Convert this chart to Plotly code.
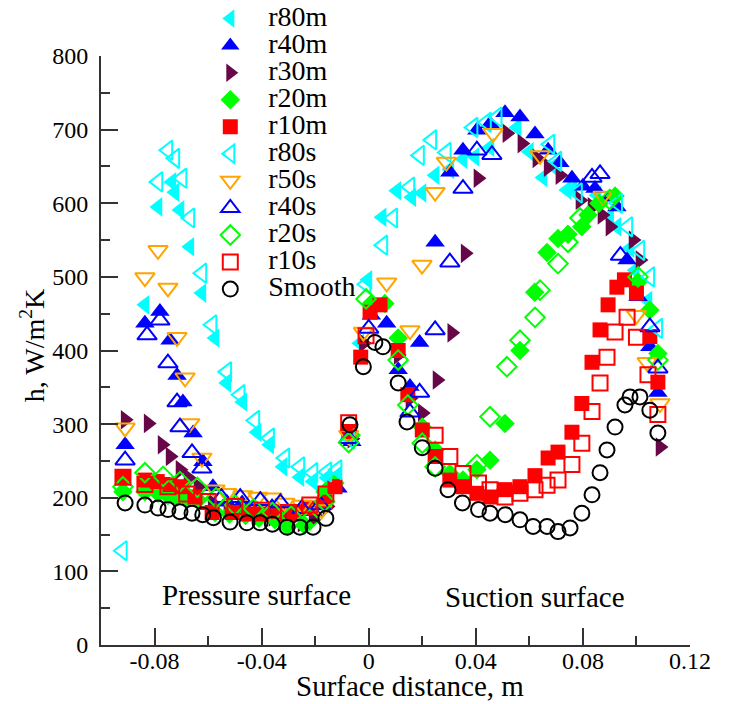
import plotly.graph_objects as go

# ---------------- data ----------------
smooth_x = [-0.091, -0.0836, -0.0787, -0.075, -0.0705, -0.066, -0.062, -0.058, -0.0518, -0.0455, -0.0406, -0.036, -0.0305, -0.0257, -0.0208, -0.016, -0.007,
            -0.002, 0.0023, 0.0053, 0.011, 0.0143, 0.02, 0.0248, 0.0296, 0.035, 0.041, 0.0453, 0.051, 0.0565, 0.0614, 0.0666, 0.0707, 0.0752, 0.0796, 0.0834, 0.0864, 0.089, 0.092, 0.0957, 0.0976, 0.1013, 0.105, 0.108]
smooth_y = [193, 190, 186, 184, 181, 179, 177, 173, 167, 166, 166, 164, 160, 160, 160, 172, 299,
            378, 411, 405, 356, 303, 268, 240, 211, 193, 184, 179, 177, 170, 161, 161, 154, 159, 179, 204, 234, 265, 296, 326, 337, 337, 319, 288]

r80m_x = [-0.0836, -0.0787, -0.0735, -0.0724, -0.0705, -0.0668, -0.0623, -0.0574, -0.053, -0.047, -0.0417, -0.037, -0.032, -0.0257, -0.0208, -0.0156, -0.0118, -0.0063,
          -0.0033, -0.0003, 0.005, 0.0105, 0.0161, 0.0199, 0.0248, 0.0303, 0.0352, 0.0397, 0.0453, 0.0554, 0.06, 0.0651, 0.069, 0.074, 0.0763, 0.0853, 0.09, 0.0927, 0.0976, 0.0995, 0.1043]
r80m_y = [462, 595, 629, 615, 591, 541, 478, 417, 356, 330, 289, 272, 242, 228, 222, 227, 230, 283,
          410, 496, 581, 617, 608, 614, 638, 646, 660, 663, 676, 703, 670, 635, 650, 618, 620, 611, 581, 568, 539, 509, 468]

r40m_x = [-0.091, -0.0836, -0.078, -0.0742, -0.0716, -0.0694, -0.0656, -0.0619, -0.0582, -0.053, -0.0473, -0.0414, -0.0361, -0.0302, -0.0249, -0.0208, -0.0163, -0.0115, -0.0063,
          0.001, 0.0067, 0.011, 0.0154, 0.019, 0.0248, 0.0303, 0.0352, 0.0404, 0.0453, 0.0509, 0.0565, 0.0621, 0.067, 0.0714, 0.0759, 0.08, 0.0845, 0.0901, 0.0927, 0.0965, 0.1006, 0.105, 0.108]
r40m_y = [272, 437, 453, 414, 366, 330, 288, 249, 215, 194, 193, 184, 188, 174, 181, 181, 194, 213, 276,
          448, 437, 374, 351, 411, 547, 642, 672, 699, 708, 723, 717, 694, 672, 655, 634, 623, 620, 608, 595, 523, 473, 405, 343]

r30m_x = [-0.091, -0.0824, -0.0772, -0.0742, -0.0705, -0.0675, -0.0638, -0.0585, -0.0526, -0.047, -0.0417, -0.0358, -0.0302, -0.0249, -0.0208, -0.0156, -0.0063,
          -0.002, 0.011, 0.0154, 0.02, 0.0255, 0.031, 0.036, 0.0408, 0.0516, 0.0572, 0.0628, 0.067, 0.0714, 0.0789, 0.0834, 0.0871, 0.0901, 0.0987, 0.1013, 0.1088]
r30m_y = [306, 301, 272, 256, 238, 227, 215, 193, 188, 186, 174, 174, 170, 166, 170, 188, 280,
          410, 394, 335, 315, 360, 424, 532, 634, 695, 681, 661, 649, 638, 604, 595, 584, 568, 550, 523, 269]

r20m_x = [-0.0918, -0.0836, -0.0787, -0.075, -0.0716, -0.0679, -0.0638, -0.0574, -0.052, -0.046, -0.041, -0.035, -0.0302, -0.024, -0.0163, -0.0126, -0.0065,
          0.001, 0.006, 0.011, 0.02, 0.0248, 0.0303, 0.0352, 0.0404, 0.0453, 0.0509, 0.0565, 0.062, 0.0666, 0.0707, 0.0744, 0.0796, 0.0819, 0.086, 0.092, 0.1006, 0.105, 0.108]
r20m_y = [208, 208, 206, 203, 201, 199, 197, 180, 178, 176, 172, 170, 161, 163, 208, 220, 285,
          464, 464, 417, 296, 265, 233, 224, 238, 251, 301, 400, 479, 533, 552, 558, 568, 584, 600, 610, 493, 455, 396]

r10m_x = [-0.0918, -0.0836, -0.079, -0.0742, -0.0697, -0.0649, -0.0585, -0.051, -0.045, -0.04, -0.0339, -0.028, -0.022, -0.0163, -0.0126, -0.0075,
          -0.003, 0.0005, 0.0042, 0.011, 0.0146, 0.02, 0.0248, 0.0303, 0.0352, 0.0404, 0.0453, 0.0509, 0.0565, 0.0621, 0.067, 0.0707, 0.0759, 0.0796, 0.0834, 0.0864, 0.0894, 0.0927, 0.0955, 0.1, 0.105, 0.108]
r10m_y = [228, 224, 222, 218, 215, 201, 180, 180, 178, 178, 181, 181, 186, 194, 215, 290,
          391, 452, 462, 400, 340, 292, 256, 224, 215, 206, 201, 211, 215, 230, 254, 262, 289, 328, 384, 428, 462, 486, 496, 478, 419, 357]

r80s_x = [-0.092, -0.0787, -0.075, -0.0724, -0.0697, -0.0668, -0.0623, -0.0585, -0.053, -0.048, -0.0425, -0.037, -0.0313, -0.0257, -0.0208, -0.0156, -0.0118, -0.007,
          -0.001, 0.0053, 0.009, 0.0154, 0.019, 0.0236, 0.029, 0.039, 0.044, 0.048, 0.0677, 0.0703, 0.078, 0.093, 0.0968, 0.1013, 0.105, 0.108]
r80s_y = [128, 629, 672, 661, 634, 580, 505, 435, 371, 340, 305, 281, 254, 242, 234, 235, 238, 280,
          490, 543, 580, 622, 665, 686, 669, 703, 710, 717, 680, 657, 614, 600, 568, 536, 500, 430]

r50s_x = [-0.091, -0.0836, -0.0787, -0.075, -0.0716, -0.0686, -0.0668, -0.0623, -0.0574, -0.053, -0.047, -0.0414, -0.0361, -0.0313, -0.025, -0.0175, -0.0075,
          -0.002, 0.0067, 0.0154, 0.0199, 0.0248, 0.029, 0.0464, 0.064, 0.0875, 0.1, 0.104, 0.1088]
r50s_y = [295, 499, 536, 485, 418, 363, 301, 254, 211, 206, 203, 201, 200, 193, 190, 184, 285,
          425, 492, 427, 516, 615, 656, 695, 665, 610, 448, 384, 328]

r40s_x = [-0.091, -0.0828, -0.078, -0.075, -0.0716, -0.0705, -0.066, -0.0623, -0.055, -0.048, -0.0405, -0.033, -0.025, -0.018, -0.0075,
          0.0, 0.0154, 0.019, 0.0248, 0.0303, 0.0352, 0.0404, 0.046, 0.0834, 0.0864, 0.094, 0.105, 0.108]
r40s_y = [251, 421, 441, 383, 330, 296, 261, 240, 200, 200, 196, 193, 185, 190, 280,
          430, 316, 343, 428, 520, 620, 672, 666, 635, 640, 529, 432, 376]

r20s_x = [-0.0918, -0.0836, -0.0768, -0.0705, -0.064, -0.057, -0.05, -0.043, -0.036, -0.029, -0.022, -0.0165, -0.0075,
          -0.001, 0.011, 0.0146, 0.02, 0.0248, 0.0404, 0.0453, 0.0516, 0.0565, 0.0621, 0.064, 0.0707, 0.0744, 0.0789, 0.09, 0.1006, 0.108]
r20s_y = [215, 234, 229, 222, 214, 200, 190, 185, 180, 175, 170, 195, 275,
          470, 387, 326, 274, 242, 245, 310, 378, 414, 445, 482, 518, 547, 580, 605, 500, 387]

r10s_x = [-0.0918, -0.0836, -0.075, -0.068, -0.06, -0.05, -0.04, -0.03, -0.022, -0.016, -0.0075,
          -0.001, 0.0248, 0.0303, 0.0352, 0.041, 0.0453, 0.0509, 0.0565, 0.0621, 0.0666, 0.0707, 0.0759, 0.0796, 0.0834, 0.0864, 0.089, 0.092, 0.0965, 0.1, 0.1043, 0.108]
r10s_y = [228, 218, 215, 205, 195, 188, 183, 180, 190, 205, 302,
          420, 285, 256, 233, 220, 211, 201, 206, 211, 217, 224, 245, 274, 317, 356, 391, 425, 445, 418, 367, 313]

series = [
    ("r80m", r80m_x, r80m_y, "triangle-left", "#00FFFF"),
    ("r40m", r40m_x, r40m_y, "triangle-up", "#0000FF"),
    ("r30m", r30m_x, r30m_y, "triangle-right", "#670748"),
    ("r20m", r20m_x, r20m_y, "diamond", "#00FF00"),
    ("r10m", r10m_x, r10m_y, "square", "#FF0000"),
    ("r80s", r80s_x, r80s_y, "triangle-left-open", "#00FFFF"),
    ("r50s", r50s_x, r50s_y, "triangle-down-open", "#FFA500"),
    ("r40s", r40s_x, r40s_y, "triangle-up-open", "#0000FF"),
    ("r20s", r20s_x, r20s_y, "diamond-open", "#00FF00"),
    ("r10s", r10s_x, r10s_y, "square-open", "#FF0000"),
    ("Smooth", smooth_x, smooth_y, "circle-open", "#000000"),
]

x_ticks = [-0.08, -0.04, 0, 0.04, 0.08, 0.12]
x_ticklabels = ["-0.08", "-0.04", "0", "0.04", "0.08", "0.12"]
y_ticks = [0, 100, 200, 300, 400, 500, 600, 700, 800]

FONT = "Liberation Serif, Times New Roman, serif"
AX = "#333333"

fig = go.Figure()
for name, xs, ys, sym, col in series:
    size = 17 if "triangle" in sym else 15
    fig.add_trace(go.Scatter(
        x=xs, y=ys, mode="markers",
        name='<span style="font-size:28px">' + name + '</span>',
        marker=dict(symbol=sym, size=size, color=col,
                    line=dict(color=col, width=2 if sym.endswith("open") else 0)),
    ))

fig.add_annotation(x=-0.042, y=68, text="Pressure surface", showarrow=False,
                   font=dict(family=FONT, size=29, color="black"))
fig.add_annotation(x=0.062, y=65, text="Suction surface", showarrow=False,
                   font=dict(family=FONT, size=29, color="black"))
# axis titles
fig.add_annotation(xref="paper", yref="paper", x=0.5246, y=-0.0696,
                   xanchor="center", yanchor="middle",
                   text="Surface distance, m", showarrow=False,
                   font=dict(family=FONT, size=29, color="black"))
fig.add_annotation(xref="paper", yref="paper", x=-0.117, y=0.509, textangle=-90,
                   xanchor="center", yanchor="middle",
                   text="h, W/m<sup>2</sup>K", showarrow=False,
                   font=dict(family=FONT, size=28, color="black"))

axis_common = dict(showline=True, linecolor=AX, linewidth=2, mirror=False,
                   ticks="inside", ticklen=17, tickwidth=1.5, tickcolor=AX,
                   showgrid=False, zeroline=False,
                   tickfont=dict(family=FONT, size=24, color="black"))

fig.update_xaxes(range=[-0.1, 0.12], tickvals=x_ticks, ticktext=x_ticklabels, ticklabelstandoff=-7,
                 minor=dict(ticks="inside", ticklen=9, dtick=0.02, tick0=0, tickcolor=AX, tickwidth=1.5),
                 **axis_common)
fig.update_yaxes(range=[0, 800], tickvals=y_ticks, ticklabelstandoff=6,
                 minor=dict(ticks="inside", ticklen=9, dtick=50, tick0=0, tickcolor=AX, tickwidth=1.5),
                 **axis_common)

# the page adds an 8 px body margin, so the figure is 8 px smaller on each side
fig.update_layout(
    width=727, height=696,
    margin=dict(l=93, r=45, t=48, b=59, autoexpand=False),
    paper_bgcolor="white", plot_bgcolor="white",
    showlegend=True,
    legend=dict(x=0.155, y=1.095, xanchor="left", yanchor="top",
                bgcolor="rgba(0,0,0,0)", borderwidth=0,
                font=dict(family=FONT, size=18.5, color="black"),
                itemwidth=66, tracegroupgap=0, maxheight=650),
)

fig.write_html("out.html")
